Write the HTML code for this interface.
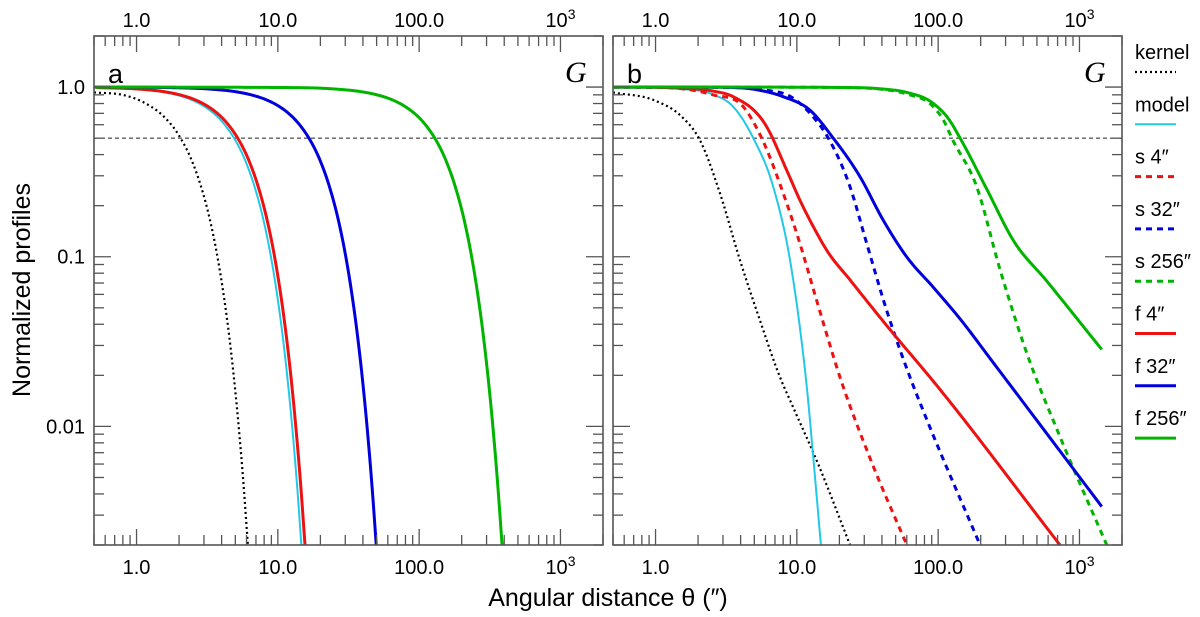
<!DOCTYPE html>
<html><head><meta charset="utf-8"><style>
body{margin:0;background:#fff;}
svg{display:block;font-family:"Liberation Sans",sans-serif;}
</style></head><body>
<svg id="chart" width="1200" height="617" viewBox="0 0 1200 617"></svg>
<script>
// ---- data ----
const xTickVals=[1,10,100,1000];
const xTickLabels=["1.0","10.0","100.0","10^3"];
const yTickVals=[1,0.1,0.01];
const yTickLabels=["1.0","0.1","0.01"];
// panel a
const aKernelT=[0.5,0.82,1.03,1.23,1.44,1.64,1.85,2.05,2.46,2.87,3.28,3.69,4.1,4.51,4.92,5.33,5.74,6.15];
const aKernelY=[0.93,0.895,0.841,0.779,0.712,0.642,0.570,0.5,0.369,0.257,0.170,0.106,0.0625,0.0349,0.0184,0.00918,0.00435,0.00195];
const aModelT=[0.5,0.98,1.47,1.96,2.45,2.94,3.43,3.92,4.41,4.9,5.88,6.86,7.84,8.82,9.8,10.78,11.76,12.74,13.72,14.7];
const aModelY=[0.993,0.973,0.94,0.895,0.841,0.779,0.712,0.642,0.570,0.5,0.369,0.257,0.170,0.106,0.0625,0.0349,0.0184,0.00918,0.00435,0.00195];
const aF4T=[0.52,1.04,1.56,2.08,2.6,3.12,3.64,4.16,4.68,5.2,6.24,7.28,8.32,9.36,10.4,11.44,12.48,13.52,14.56,15.6];
const aF4Y=[0.993,0.973,0.94,0.895,0.841,0.779,0.712,0.642,0.570,0.5,0.369,0.257,0.170,0.106,0.0625,0.0349,0.0184,0.00918,0.00435,0.00195];
const aF32T=[0.5,1.66,3.32,4.98,6.64,8.3,9.96,11.62,13.28,14.94,16.6,19.92,23.24,26.56,29.88,33.2,36.52,39.84,43.16,46.48,49.8];
const aF32Y=[1,0.993,0.973,0.94,0.895,0.841,0.779,0.712,0.642,0.570,0.5,0.369,0.257,0.170,0.106,0.0625,0.0349,0.0184,0.00918,0.00435,0.00195];
const aF256T=[0.5,12.9,25.8,38.7,51.6,64.5,77.4,90.3,103.2,116.1,129,154.8,180.6,206.4,232.2,258,283.8,309.6,335.4,361.2,387];
const aF256Y=[1,0.993,0.973,0.94,0.895,0.841,0.779,0.712,0.642,0.570,0.5,0.369,0.257,0.170,0.106,0.0625,0.0349,0.0184,0.00918,0.00435,0.00195];
// panel b
const bKernelT=[0.5,1.0,1.5,2.06,2.86,3.96,5.48,7.6,9.4,13.7,23.8];
const bKernelY=[0.93,0.83,0.68,0.487,0.236,0.0953,0.0422,0.0195,0.013,0.0064,0.002];
const bModelT=[0.5,1.0,1.5,2.5,3.55,4.92,6.81,8.95,10.5,11.9,13.0,14.8];
const bModelY=[1,0.995,0.975,0.91,0.765,0.5,0.258,0.0953,0.0385,0.0155,0.0069,0.002];
const bS4T=[0.5,1.0,1.5,2.55,4.18,5.64,8.02,10.5,13.8,20.2,33.7,60];
const bS4Y=[1,0.995,0.98,0.9,0.765,0.5,0.236,0.12,0.0554,0.0195,0.0062,0.002];
const bF4T=[0.5,1.0,1.5,2.5,3.55,6.12,8.47,10.5,13.1,16.3,23.8,48.2,87.5,728];
const bF4Y=[1,0.997,0.985,0.95,0.877,0.583,0.324,0.216,0.15,0.109,0.073,0.0352,0.0195,0.002];
const bS32T=[0.5,1.5,3,6,9,12.4,16.7,23.8,31.2,43.2,63.2,83,198];
const bS32Y=[1,0.999,0.995,0.96,0.88,0.7,0.5,0.258,0.12,0.0483,0.0195,0.011,0.002];
const bF32T=[0.5,1.5,3,5,8.02,12.4,18.1,28,40.9,59.8,92.5,143,245,1438];
const bF32Y=[1,0.999,0.997,0.97,0.877,0.73,0.5,0.296,0.164,0.1,0.066,0.043,0.0238,0.00337];
const bS256T=[0.5,5,20,40,60,92.5,110,125,187,274,424,728,1560];
const bS256Y=[1,0.999,0.993,0.97,0.91,0.765,0.63,0.5,0.26,0.084,0.027,0.0087,0.002];
const bF256T=[0.5,5,20,40,60,92.5,120,143,221,340,586,1438];
const bF256Y=[1,0.999,0.995,0.975,0.93,0.8,0.64,0.5,0.25,0.125,0.072,0.0284];
const halfLevel=0.5;
const legendLabels=["kernel","model","s 4″","s 32″","s 256″","f 4″","f 32″","f 256″"];

// ---- layout ----
const NS="http://www.w3.org/2000/svg";
const svg=document.getElementById('chart');
const X0=Math.log10(0.5),X1=Math.log10(2000),Y0=Math.log10(0.002),Y1=Math.log10(2);
const top_=36,bot=545,W=509;
function sx(left,v){return left+(Math.log10(v)-X0)/(X1-X0)*W;}
function sy(v){return bot-(Math.log10(v)-Y0)/(Y1-Y0)*(bot-top_);}
function mk(tag,attrs,parent){const e=document.createElementNS(NS,tag);for(const k in attrs)e.setAttribute(k,attrs[k]);(parent||svg).appendChild(e);return e;}
const styles={
 kernel:{stroke:"#000",w:2.2,dash:"2,3"},
 model:{stroke:"#22c8e8",w:2,dash:""},
 s4:{stroke:"#ee1111",w:3,dash:"6,5"},
 s32:{stroke:"#0000dd",w:3,dash:"6,5"},
 s256:{stroke:"#00b400",w:3,dash:"6,5"},
 f4:{stroke:"#ee1111",w:3,dash:""},
 f32:{stroke:"#0000dd",w:3,dash:""},
 f256:{stroke:"#00b400",w:3,dash:""}
};
function hermite(xs,ys){
  const n=xs.length,d=[],m=new Array(n);
  for(let i=0;i<n-1;i++)d.push((ys[i+1]-ys[i])/(xs[i+1]-xs[i]));
  for(let i=1;i<n-1;i++){
    const h0=xs[i]-xs[i-1],h1=xs[i+1]-xs[i];
    m[i]=(d[i-1]*d[i]<=0)?0:(h1*d[i-1]+h0*d[i])/(h0+h1);
    // keep monotone: limit tangent to 3x neighbouring secants
    const lim=3*Math.min(Math.abs(d[i-1]),Math.abs(d[i]));
    if(Math.abs(m[i])>lim)m[i]=Math.sign(m[i])*lim;
  }
  m[0]=d[0];
  m[n-1]=d[n-2];
  return function(x){
    let i=0;while(i<n-2&&x>xs[i+1])i++;
    const h=xs[i+1]-xs[i],t=(x-xs[i])/h,t2=t*t,t3=t2*t;
    return (2*t3-3*t2+1)*ys[i]+(t3-2*t2+t)*h*m[i]+(-2*t3+3*t2)*ys[i+1]+(t3-t2)*h*m[i+1];
  };
}
function curve(left,T,Y,st,name,g){
  const lx=T.map(Math.log10),ly=Y.map(Math.log10);
  const f=hermite(lx,ly);
  const N=400;let d="";
  for(let k=0;k<=N;k++){
    const x=lx[0]+(lx[lx.length-1]-lx[0])*k/N;
    const v=Math.pow(10,Math.min(0,f(x))),t=Math.pow(10,x);
    d+=(k?"L":"M")+sx(left,t).toFixed(2)+","+sy(v).toFixed(2);
  }
  const e=mk('path',{d:d,fill:"none",stroke:st.stroke,"stroke-width":st.w,"stroke-dasharray":st.dash,"stroke-linejoin":"round"},g);
  
  
}
function panel(left,letter,series,id){
  const g=mk('g',{});
  
  
  const cp=mk('clipPath',{id:'clip'+id},g);
  mk('rect',{x:left,y:top_,width:W,height:bot-top_},cp);
  const cg=mk('g',{'clip-path':'url(#clip'+id+')'},g);
  const hl=mk('line',{x1:left,x2:left+W,y1:sy(halfLevel),y2:sy(halfLevel),stroke:"#222","stroke-width":1,"stroke-dasharray":"4,3"},cg);
  
  
  series.forEach(s=>curve(left,s[0],s[1],styles[s[2]],s[2]+'-curve-'+id,cg));
  const tg=mk('g',{stroke:"#555","stroke-width":1.3},g);
  
  
  for(let e=-1;e<=3;e++)for(let m=1;m<=9;m++){
    const v=m*Math.pow(10,e); if(v<0.5||v>2000)continue;
    const x=sx(left,v),L=(m===1)?16:10;
    mk('line',{x1:x,x2:x,y1:bot,y2:bot-L},tg);mk('line',{x1:x,x2:x,y1:top_,y2:top_+L},tg);
  }
  for(let e=-3;e<=0;e++)for(let m=1;m<=9;m++){
    const v=m*Math.pow(10,e); if(v<0.002||v>2)continue;
    const y=sy(v),L=(m===1)?17:10;
    mk('line',{x1:left,x2:left+L,y1:y,y2:y},tg);mk('line',{x1:left+W,x2:left+W-L,y1:y,y2:y},tg);
  }
  const fr=mk('rect',{x:left,y:top_,width:W,height:bot-top_,fill:"none",stroke:"#555","stroke-width":1.6},g);
  
  
  xTickVals.forEach((v,i)=>{
    [[27,'top'],[bot+29,'bottom']].forEach(([y,pos])=>{
      const t=mk('text',{x:sx(left,v),y:y,"text-anchor":"middle","font-size":20,fill:"#000"},g);
      
      
      if(xTickLabels[i]==="10^3"){t.textContent="10";const s=mk('tspan',{dy:-8,"font-size":14},t);s.textContent="3";}
      else t.textContent=xTickLabels[i];
    });
  });
  const lt=mk('text',{x:left+14,y:83,"font-size":27,fill:"#000"},g);lt.textContent=letter;
  
  
  const gt=mk('text',{x:left+W-38,y:82,"font-size":30,"font-style":"italic","font-family":"Liberation Serif, serif",fill:"#000"},g);gt.textContent="G";
  
  
}
panel(94,"a",[[aKernelT,aKernelY,'kernel'],[aModelT,aModelY,'model'],[aF4T,aF4Y,'f4'],[aF32T,aF32Y,'f32'],[aF256T,aF256Y,'f256']],'a');
panel(613,"b",[[bKernelT,bKernelY,'kernel'],[bModelT,bModelY,'model'],[bS4T,bS4Y,'s4'],[bS32T,bS32Y,'s32'],[bS256T,bS256Y,'s256'],[bF4T,bF4Y,'f4'],[bF32T,bF32Y,'f32'],[bF256T,bF256Y,'f256']],'b');
yTickVals.forEach((v,i)=>{
  const t=mk('text',{x:85,y:sy(v)+7,"text-anchor":"end","font-size":20,fill:"#000"});
  t.textContent=yTickLabels[i];
  
  
});
const xt=mk('text',{x:608,y:606,"text-anchor":"middle","font-size":25,fill:"#000"});
xt.textContent="Angular distance θ (″)";


const yt=mk('text',{x:0,y:0,"text-anchor":"middle","font-size":25,fill:"#000",transform:"translate(30,290) rotate(-90)"});
yt.textContent="Normalized profiles";


const keys=['kernel','model','s4','s32','s256','f4','f32','f256'];
keys.forEach((k,i)=>{
  const g=mk('g',{});
  
  
  const y=59+i*52.3;
  const t=mk('text',{x:1135,y:y,"font-size":20,fill:"#000"},g);t.textContent=legendLabels[i];
  const st=styles[k];
  mk('line',{x1:1135,x2:1176,y1:y+13,y2:y+13,stroke:st.stroke,"stroke-width":st.w,"stroke-dasharray":st.dash},g);
});
</script>
</body></html>
